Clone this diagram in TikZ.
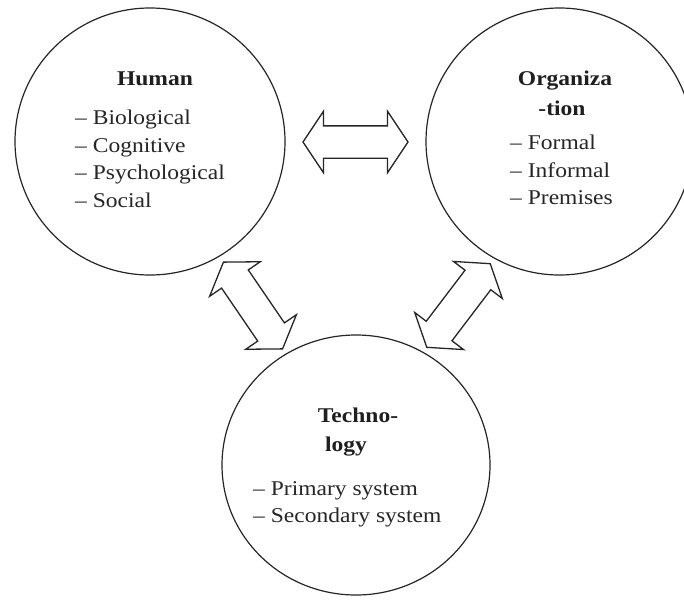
\documentclass[tikz,border=0pt]{standalone}
\usepackage{fontspec}
\setmainfont[FakeStretch=1.12]{Liberation Serif}
\usetikzlibrary{shapes.geometric,shapes.arrows}
\begin{document}
\begin{tikzpicture}[x=1pt,y=-1pt,
  blob/.style={draw=black!85, line width=1.2pt, ellipse, inner sep=0pt, outer sep=0pt},
  dblarrow/.style={draw=black!85, line width=1.3pt, fill=white, double arrow,
    minimum height=105pt, minimum width=60pt, inner xsep=0pt, inner ysep=15.5pt,
    double arrow head extend=14.5pt, double arrow tip angle=112.6},
  head/.style={anchor=base, inner sep=0pt, text=black!88, font=\fontsize{21}{27}\selectfont\bfseries},
  item/.style={anchor=base west, inner sep=0pt, text=black!85, font=\fontsize{21}{27}\selectfont}]
\useasboundingbox (0,0) rectangle (684,599);
\fill[white] (0,0) rectangle (684,599);
\begin{scope}
\clip (0,0) rectangle (684,599);
% circles
\node[blob, minimum width=270pt, minimum height=267pt] (human) at (150,141.5) {};
\node[blob, minimum width=267pt, minimum height=267pt] (org) at (559.5,141.5) {};
\node[blob, minimum width=268pt, minimum height=260pt] (tech) at (356,465) {};
\end{scope}
% arrows
\node[dblarrow] (ho) at (355.5,142) {};
\node[dblarrow, rotate=-55.7] (ht) at (253,305.5) {};
\node[dblarrow, rotate=52.8] (ot) at (458.5,305.5) {};
% Human text
\node[head] (hh) at (155,86) {Human};
\node[item] (h1) at (75,124) {– Biological};
\node[item] (h2) at (75,152) {– Cognitive};
\node[item] (h3) at (75,179) {– Psychological};
\node[item] (h4) at (75,207) {– Social};
% Organization text
\node[head] (oh1) at (565,86) {Organiza};
\node[head] (oh2) at (562,115) {-tion};
\node[item] (o1) at (510,149) {– Formal};
\node[item] (o2) at (510,177) {– Informal};
\node[item] (o3) at (510,204) {– Premises};
% Technology text
\node[head] (th1) at (358,422) {Techno-};
\node[head] (th2) at (346,451) {logy};
\node[item] (t1) at (253,495) {– Primary system};
\node[item] (t2) at (253,522) {– Secondary system};
\end{tikzpicture}
\end{document}
